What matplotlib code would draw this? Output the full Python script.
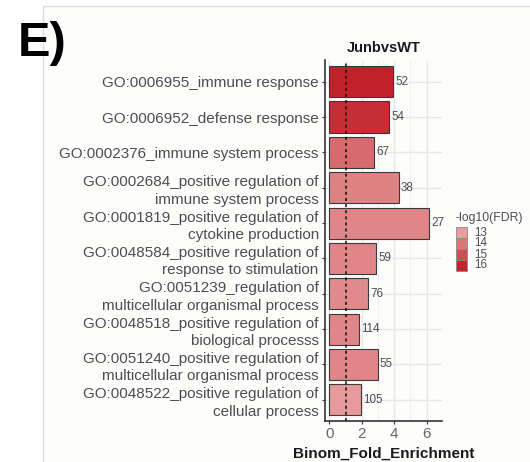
#!/usr/bin/env python3
"""GO enrichment bar chart for JunbvsWT, coloured by -log10(FDR)."""

import matplotlib

matplotlib.use("Agg")
import matplotlib.pyplot as plt
from matplotlib.colors import LinearSegmentedColormap, Normalize
from matplotlib.patches import Rectangle
from matplotlib.ticker import MultipleLocator


TERMS = [
    "GO:0006955_immune response",
    "GO:0006952_defense response",
    "GO:0002376_immune system process",
    "GO:0002684_positive regulation of\nimmune system process",
    "GO:0001819_positive regulation of\ncytokine production",
    "GO:0048584_positive regulation of\nresponse to stimulation",
    "GO:0051239_regulation of\nmulticellular organismal process",
    "GO:0048518_positive regulation of\nbiological processs",
    "GO:0051240_positive regulation of\nmulticellular organismal process",
    "GO:0048522_positive regulation of\ncellular process",
]
FOLD_ENRICHMENT = [3.95, 3.7, 2.76, 4.3, 6.15, 2.88, 2.39, 1.85, 2.99, 1.94]
GENE_COUNTS = [52, 54, 67, 38, 27, 59, 76, 114, 55, 105]
NEG_LOG10_FDR = [16.1, 15.8, 14.3, 13.7, 13.6, 13.6, 13.5, 13.6, 13.6, 13.1]
LEGEND_BREAKS = [13, 14, 15, 16]

TEXT_GREY = "#4d4d4d"


def main() -> int:
    plt.rcParams.update(
        {
            "font.family": ["Liberation Sans", "DejaVu Sans"],
            "font.size": 11,
        }
    )

    fig = plt.figure(figsize=(5.30, 4.62), dpi=100, facecolor="white")

    # light frame around the panel, kept behind the axes
    fig.patches.append(
        Rectangle((43 / 530, -0.1), 1.0, (462 - 6) / 462 + 0.1, transform=fig.transFigure,
                  facecolor="#fdfdfc", edgecolor="#dcdcdc", linewidth=1.0, zorder=-5)
    )

    ax = fig.add_axes([325 / 530, 41 / 462, 117 / 530, 360.5 / 462])
    ax.set_facecolor("none")

    cmap = LinearSegmentedColormap.from_list("fdr", ["#eaa6a6", "#c01e25"])
    norm = Normalize(vmin=12.8, vmax=16.2)

    y = list(range(len(TERMS)))
    colors = [cmap(norm(v)) for v in NEG_LOG10_FDR]
    ax.barh(y, FOLD_ENRICHMENT, height=0.88, color=colors, edgecolor="#3a3a3a",
            linewidth=0.8, zorder=2)

    for yi, value, count in zip(y, FOLD_ENRICHMENT, GENE_COUNTS):
        ax.text(value + 0.12, yi, str(count), ha="left", va="center", fontsize=8.4,
                color=TEXT_GREY, zorder=4)

    ax.axvline(1, color="#111111", linestyle=(0, (2, 2)), linewidth=1.1, zorder=3)

    ax.set_yticks(y, TERMS, linespacing=1.3)
    ax.set_ylim(len(TERMS) - 0.4, -0.6)
    ax.set_xlim(-0.27, 6.95)
    ax.xaxis.set_major_locator(MultipleLocator(2))
    ax.xaxis.set_minor_locator(MultipleLocator(1))

    ax.grid(True, which="major", color="#e6e6e6", linewidth=1.0, zorder=0)
    ax.grid(True, which="minor", axis="x", color="#f0f0f0", linewidth=0.8, zorder=0)
    ax.set_axisbelow(True)

    for side in ("top", "right"):
        ax.spines[side].set_visible(False)
    for side in ("left", "bottom"):
        ax.spines[side].set_color("#333333")
        ax.spines[side].set_linewidth(1.2)

    ax.tick_params(axis="both", which="major", length=2.5, width=0.8, color="#333333",
                   labelcolor=TEXT_GREY, pad=2)
    ax.tick_params(axis="x", which="minor", length=0)
    ax.tick_params(axis="x", labelsize=11, labelcolor="#666666")

    ax.set_title("JunbvsWT", fontsize=10.5, fontweight="bold", color="#1a1a1a", pad=6)
    ax.set_xlabel("Binom_Fold_Enrichment", fontsize=11, fontweight="bold", color="#1a1a1a",
                  labelpad=4)

    # stepped fill legend
    fig.text(455 / 530, 1 - 218 / 462, "-log10(FDR)", fontsize=8.8, color=TEXT_GREY,
             ha="left", va="center")
    key_w, key_h = 11 / 530, 11 / 462
    for i, brk in enumerate(LEGEND_BREAKS):
        top = 1 - (227 + i * 11) / 462
        fig.patches.append(
            Rectangle((456 / 530, top - key_h), key_w, key_h, transform=fig.transFigure,
                      facecolor=cmap(norm(brk)), edgecolor="#8a8a8a", linewidth=0.6, zorder=3)
        )
        fig.text(474 / 530, top - key_h / 2, str(brk), fontsize=8.4, color=TEXT_GREY,
                 ha="left", va="center")

    fig.text(18 / 530, 1 - 43 / 462, "E)", fontsize=35, fontweight="bold", color="black",
             ha="left", va="center")

    fig.savefig("out.png", dpi=100, facecolor=fig.get_facecolor())
    plt.close(fig)
    return 0


if __name__ == "__main__":
    raise SystemExit(main())
